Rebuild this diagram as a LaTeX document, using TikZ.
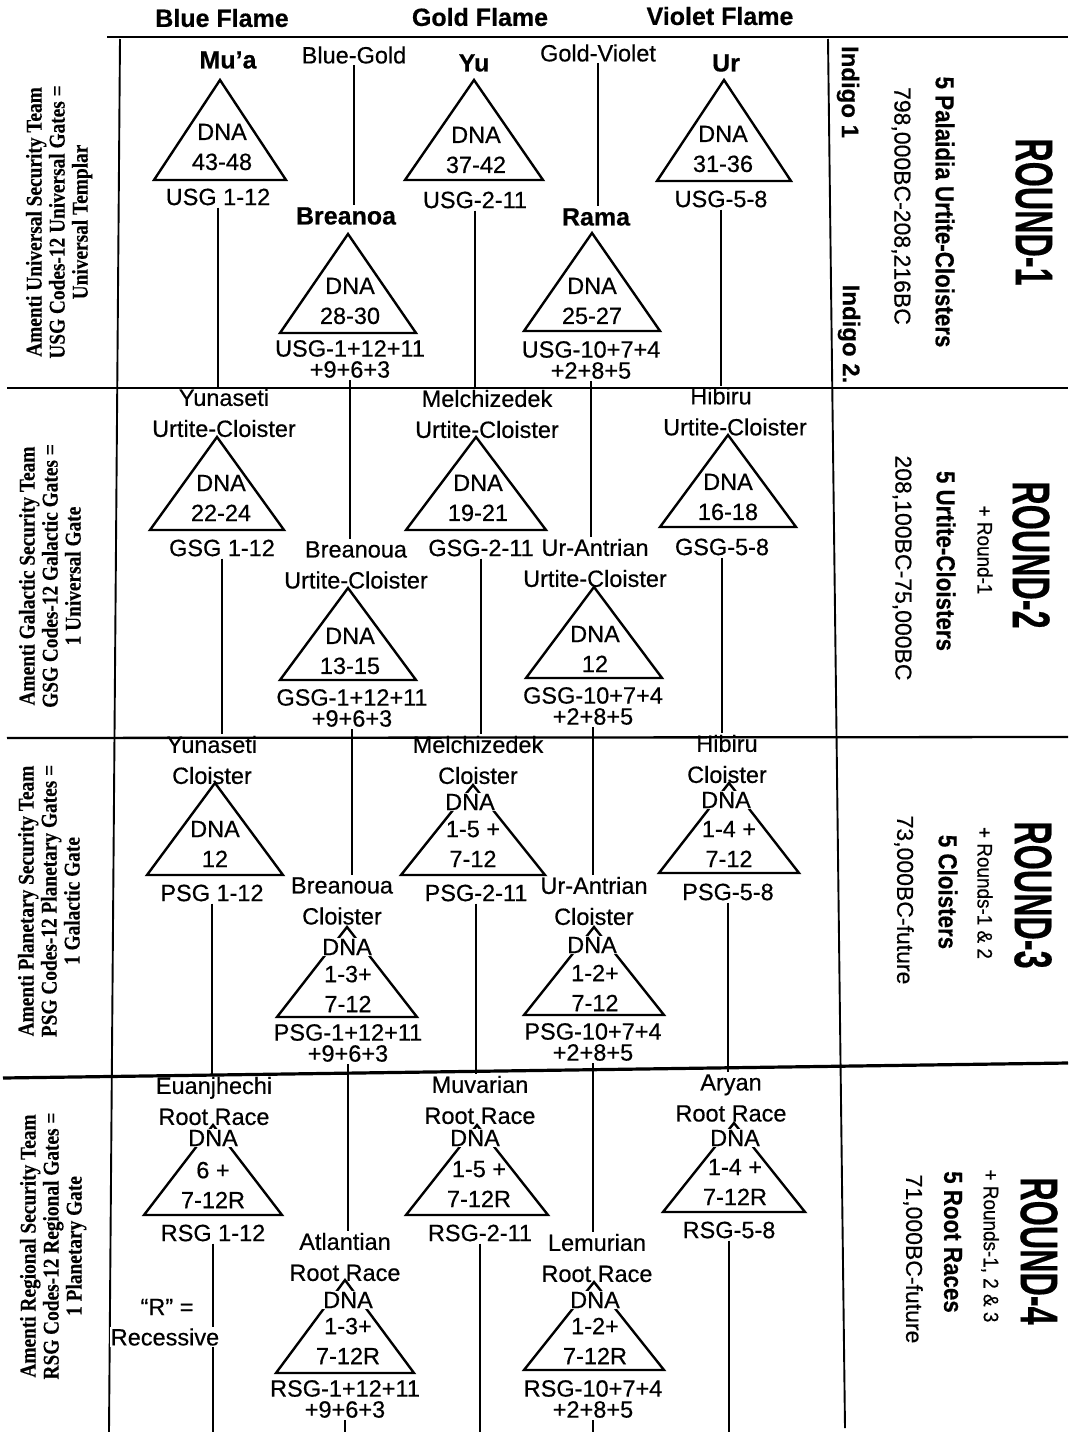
\documentclass[tikz,border=0pt]{standalone}
\usepackage{fontspec}
\setmainfont{Liberation Sans}[FakeBold=0.5]
\newfontfamily\timesfont{Liberation Serif}[FakeBold=0.3]
\newcommand{\tria}[4]{\draw[tri] (#1-#3,#2) -- (#1,#2-#4) -- (#1+#3,#2) -- cycle;}
\newcommand{\sidelab}[3]{\scalebox{0.86}[1]{\begin{tabular}{@{}c@{}}#1\\#2\\#3\end{tabular}}}
\tikzset{
  tri/.style={line width=2.4pt, line join=miter},
  conn/.style={line width=1.6pt},
  frame/.style={line width=1.9pt},
  sepline/.style={line width=2.3pt},
  txt/.style={font=\fontsize{23.5}{30}\selectfont, align=center, inner sep=1pt},
  nm/.style={font=\bfseries\fontsize{25}{30}\selectfont, inner sep=2pt},
  nm2/.style={font=\fontsize{23.5}{31}\selectfont, align=center, inner sep=2pt},
  gate/.style={font=\fontsize{23.5}{21}\selectfont, align=center, inner sep=2pt},
  wt/.style={fill=white},
  hdr/.style={font=\bfseries\fontsize{25}{30}\selectfont},
  side/.style={font=\timesfont\bfseries\fontsize{22.5}{23}\selectfont, rotate=90, inner sep=0pt},
  rtitle/.style={font=\bfseries\fontsize{53}{60}\selectfont, rotate=-90, inner sep=0pt},
  rsub/.style={font=\bfseries\fontsize{26}{30}\selectfont, rotate=-90, inner sep=0pt},
  rdate/.style={font=\fontsize{23}{28}\selectfont, rotate=-90, inner sep=0pt},
  rplus/.style={font=\fontsize{21}{25}\selectfont, rotate=-90, inner sep=0pt},
  indigo/.style={font=\bfseries\fontsize{24}{28}\selectfont, rotate=-90, inner sep=0pt},
}
\begin{document}
\begin{tikzpicture}[x=1pt,y=-1pt]
\useasboundingbox (0,0) rectangle (1074,1432);
% ---------- frame ----------
\draw[frame] (107,37) -- (1068,37);
\draw[frame] (120,39) -- (109,1432);
\draw[frame] (828,39) -- (845,1428);
\draw[sepline] (7,388) -- (1068,388);
\draw[sepline] (7,738) -- (1068,737);
\draw[sepline,line width=3.2pt] (3,1078) -- (1068,1063);
% ---------- header ----------
\node[hdr] (hblue) at (222,18) {Blue Flame};
\node[hdr] (hgold) at (480,17) {Gold Flame};
\node[hdr] (hviolet) at (720,16) {Violet Flame};
% ---------- left labels ----------
\node[side] (l1) at (60,222) {\sidelab{Amenti Universal Security Team}{USG Codes-12 Universal Gates =}{Universal Templar}};
\node[side] (l2) at (53,576) {\sidelab{Amenti Galactic Security Team}{GSG Codes-12 Galactic Gates =}{1 Universal Gate}};
\node[side] (l3) at (52,901) {\sidelab{Amenti Planetary Security Team}{PSG Codes-12 Planetary Gates =}{1 Galactic Gate}};
\node[side] (l4) at (54,1246) {\sidelab{Amenti Regional Security Team}{RSG Codes-12 Regional Gates =}{1 Planetary Gate}};
% ---------- right labels ----------
\node[indigo] (ind1) at (848,92) {Indigo 1};
\node[indigo] (ind2) at (849,334) {Indigo 2.};
\node[rtitle] (r1t) at (1034,212) {\scalebox{0.61}[1]{ROUND-1}};
\node[rsub] (r1s) at (945,212) {\scalebox{0.86}[1]{5 Palaidia Urtite-Cloisters}};
\node[rdate] (r1d) at (901,206) {798,000BC-208,216BC};
\node[rtitle] (r2t) at (1031,555) {\scalebox{0.61}[1]{ROUND-2}};
\node[rplus] (r2p) at (985,550) {\scalebox{0.9}[1]{+ Round-1}};
\node[rsub] (r2s) at (946,561) {\scalebox{0.86}[1]{5 Urtite-Cloisters}};
\node[rdate] (r2d) at (902,568) {208,100BC-75,000BC};
\node[rtitle] (r3t) at (1033,895) {\scalebox{0.61}[1]{ROUND-3}};
\node[rplus] (r3p) at (985,893) {\scalebox{0.9}[1]{+ Rounds-1 \& 2}};
\node[rsub] (r3s) at (948,892) {\scalebox{0.86}[1]{5 Cloisters}};
\node[rdate] (r3d) at (904,900) {73,000BC-future};
\node[rtitle] (r4t) at (1039,1251) {\scalebox{0.61}[1]{ROUND-4}};
\node[rplus] (r4p) at (990,1246) {\scalebox{0.9}[1]{+ Rounds-1, 2 \& 3}};
\node[rsub] (r4s) at (953,1242) {\scalebox{0.86}[1]{5 Root Races}};
\node[rdate] (r4d) at (913,1259) {71,000BC-future};
% ---------- triangles ----------
\tria{220}{180}{66}{100}
\tria{348}{333}{68}{99}
\tria{474}{180}{69}{100}
\tria{592}{331}{68}{98}
\tria{724}{181}{67}{101}
\tria{217}{530}{67}{93}
\tria{348}{680}{68}{92}
\tria{476}{530}{70}{93}
\tria{594}{678}{68}{91}
\tria{728}{527}{68}{92}
\tria{215}{875}{68}{92}
\tria{347}{1017}{70}{90}
\tria{473}{875}{72}{90}
\tria{594}{1015}{70}{88}
\tria{729}{873}{70}{90}
\tria{213}{1215}{69}{90}
\tria{345}{1373}{69}{93}
\tria{477}{1215}{71}{90}
\tria{594}{1370}{70}{88}
\tria{734}{1212}{71}{89}
% ---------- row 1 ----------
\node[nm] (mua) at (228,60) {Mu’a};
\node[txt] (muain) at (222,147) {DNA\\43-48};
\node[gate] (muag) at (218,197) {USG 1-12};
\node[txt] (bg) at (354,55) {Blue-Gold};
\node[nm] (bre) at (346,216) {Breanoa};
\node[txt] (brein) at (350,301) {DNA\\28-30};
\node[gate] (breg) at (350,359) {USG-1+12+11\\+9+6+3};
\node[nm] (yu) at (474,63) {Yu};
\node[txt] (yuin) at (476,150) {DNA\\37-42};
\node[gate] (yug) at (475,200) {USG-2-11};
\node[txt] (gv) at (598,53) {Gold-Violet};
\node[nm] (rama) at (596,217) {Rama};
\node[txt] (ramain) at (592,301) {DNA\\25-27};
\node[gate] (ramag) at (591,360) {USG-10+7+4\\+2+8+5};
\node[nm] (ur) at (726,63) {Ur};
\node[txt] (urin) at (723,149) {DNA\\31-36};
\node[gate] (urg) at (721,199) {USG-5-8};
% ---------- row 2 ----------
\node[nm2] (yun2) at (224,413) {Yunaseti\\Urtite-Cloister};
\node[txt] (yun2in) at (221,498) {DNA\\22-24};
\node[gate] (yun2g) at (222,548) {GSG 1-12};
\node[nm2] (bre2) at (356,565) {Breanoua\\Urtite-Cloister};
\node[txt] (bre2in) at (350,651) {DNA\\13-15};
\node[gate] (bre2g) at (352,708) {GSG-1+12+11\\+9+6+3};
\node[nm2] (mel2) at (487,414) {Melchizedek\\Urtite-Cloister};
\node[txt] (mel2in) at (478,498) {DNA\\19-21};
\node[gate] (mel2g) at (481,548) {GSG-2-11};
\node[nm2] (ura2) at (595,563) {Ur-Antrian\\Urtite-Cloister};
\node[txt] (ura2in) at (595,649) {DNA\\12};
\node[gate] (ura2g) at (593,706) {GSG-10+7+4\\+2+8+5};
\node[txt] (hib2a) at (721,396) {Hibiru};
\node[txt] (hib2) at (735,427) {Urtite-Cloister};
\node[txt] (hib2in) at (728,497) {DNA\\16-18};
\node[gate] (hib2g) at (722,547) {GSG-5-8};
% ---------- row 3 ----------
\node[nm2] (yun3) at (212,760) {Yunaseti\\Cloister};
\node[txt] (yun3in) at (215,844) {DNA\\12};
\node[gate] (yun3g) at (212,893) {PSG 1-12};
\node[nm2] (bre3) at (342,901) {Breanoua\\Cloister};
\node[txt,wt] (bre3dna) at (347,947) {DNA};
\node[txt] (bre3in) at (348,989) {1-3+\\7-12};
\node[gate] (bre3g) at (348,1043) {PSG-1+12+11\\+9+6+3};
\node[nm2] (mel3) at (478,760) {Melchizedek\\Cloister};
\node[txt,wt] (mel3dna) at (470,802) {DNA};
\node[txt] (mel3in) at (473,844) {1-5 +\\7-12};
\node[gate] (mel3g) at (476,893) {PSG-2-11};
\node[nm2] (ura3) at (594,901) {Ur-Antrian\\Cloister};
\node[txt,wt] (ura3dna) at (592,945) {DNA};
\node[txt] (ura3in) at (595,988) {1-2+\\7-12};
\node[gate] (ura3g) at (593,1042) {PSG-10+7+4\\+2+8+5};
\node[nm2] (hib3) at (727,759) {Hibiru\\Cloister};
\node[txt,wt] (hib3dna) at (726,800) {DNA};
\node[txt] (hib3in) at (729,844) {1-4 +\\7-12};
\node[gate] (hib3g) at (728,892) {PSG-5-8};
% ---------- row 4 ----------
\node[nm2] (eua4) at (214,1101) {Euanjhechi\\Root Race};
\node[txt,wt] (eua4dna) at (213,1138) {DNA};
\node[txt] (eua4in) at (213,1185) {6 +\\7-12R};
\node[gate] (eua4g) at (213,1233) {RSG 1-12};
\node[nm2] (atl4) at (345,1257) {Atlantian\\Root Race};
\node[txt,wt] (atl4dna) at (348,1300) {DNA};
\node[txt] (atl4in) at (348,1341) {1-3+\\7-12R};
\node[gate] (atl4g) at (345,1399) {RSG-1+12+11\\+9+6+3};
\node[nm2] (muv4) at (480,1100) {Muvarian\\Root Race};
\node[txt,wt] (muv4dna) at (475,1138) {DNA};
\node[txt] (muv4in) at (479,1184) {1-5 +\\7-12R};
\node[gate] (muv4g) at (480,1233) {RSG-2-11};
\node[nm2] (lem4) at (597,1258) {Lemurian\\Root Race};
\node[txt,wt] (lem4dna) at (595,1300) {DNA};
\node[txt] (lem4in) at (595,1341) {1-2+\\7-12R};
\node[gate] (lem4g) at (593,1399) {RSG-10+7+4\\+2+8+5};
\node[nm2] (ary4) at (731,1098) {Aryan\\Root Race};
\node[txt,wt] (ary4dna) at (735,1138) {DNA};
\node[txt] (ary4in) at (735,1182) {1-4 +\\7-12R};
\node[gate] (ary4g) at (729,1230) {RSG-5-8};
% bottom ends
\coordinate (botA) at (213,1432);
\coordinate (botB) at (345,1432);
\coordinate (botC) at (480,1432);
\coordinate (botD) at (593,1432);
\coordinate (botE) at (729,1432);
% ---------- connectors ----------
\draw[conn] (muag.south) -- (muag.south |- yun2.north);
\draw[conn] (bg.south) -- (bg.south |- bre.north);
\draw[conn] (breg.south) -- (breg.south |- bre2.north);
\draw[conn] (yug.south) -- (yug.south |- mel2.north);
\draw[conn] (gv.south) -- (gv.south |- rama.north);
\draw[conn] (ramag.south) -- (ramag.south |- ura2.north);
\draw[conn] (urg.south) -- (urg.south |- hib2a.north);
\draw[conn] (yun2g.south) -- (yun2g.south |- yun3.north);
\draw[conn] (bre2g.south) -- (bre2g.south |- bre3.north);
\draw[conn] (mel2g.south) -- (mel2g.south |- mel3.north);
\draw[conn] (ura2g.south) -- (ura2g.south |- ura3.north);
\draw[conn] (hib2g.south) -- (hib2g.south |- hib3.north);
\draw[conn] (yun3g.south) -- (yun3g.south |- eua4.north);
\draw[conn] (bre3g.south) -- (bre3g.south |- atl4.north);
\draw[conn] (mel3g.south) -- (mel3g.south |- muv4.north);
\draw[conn] (ura3g.south) -- (ura3g.south |- lem4.north);
\draw[conn] (hib3g.south) -- (hib3g.south |- ary4.north);
\draw[conn] (eua4g.south) -- (botA);
\draw[conn] (atl4g.south) -- (botB);
\draw[conn] (muv4g.south) -- (botC);
\draw[conn] (lem4g.south) -- (botD);
\draw[conn] (ary4g.south) -- (botE);
% note
\node[txt] (rq) at (167,1307) {``R'' =};
\node[txt,wt] (rec) at (165,1337) {Recessive};
\end{tikzpicture}
\end{document}
